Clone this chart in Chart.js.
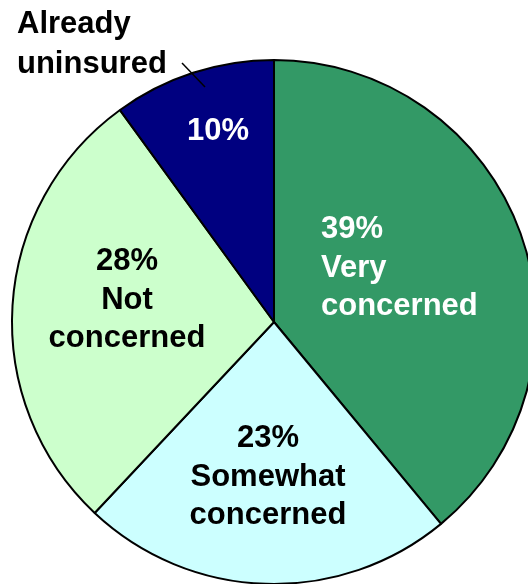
<!DOCTYPE html>
<html>
<head>
<meta charset="utf-8">
<script src="https://cdn.jsdelivr.net/npm/chart.js@4/dist/chart.umd.min.js"></script>
<style>
  html, body { margin: 0; padding: 0; background: #fff; overflow: hidden; }
  #wrap { position: absolute; left: 0; top: 0; width: 548px; height: 644px; }
</style>
</head>
<body>
<div id="wrap"><canvas id="grafico" width="548" height="644"></canvas></div>
<script>
// Datos de la encuesta (porcentajes), en sentido horario desde arriba
const categorias = ['Very concerned', 'Somewhat concerned', 'Not concerned', 'Already uninsured'];
const valores = [39, 23, 28, 10];
const colores = ['#339966', '#ccffff', '#ccffcc', '#000080'];

// Texto de cada etiqueta, una línea por elemento
const etiquetas = [
  ['39%', 'Very', 'concerned'],
  ['23%', 'Somewhat', 'concerned'],
  ['28%', 'Not', 'concerned'],
  ['10%']
];
const etiquetaExterna = ['Already', 'uninsured'];

// Posición de cada bloque de texto respecto al centro del pastel (px)
const posEtiquetas = [
  { dx: 47, dy: -84, align: 'left', color: '#fff' },
  { dx: -6, dy: 125, align: 'center', color: '#000' },
  { dx: -147, dy: -52, align: 'center', color: '#000' },
  { dx: -56, dy: -182, align: 'center', color: '#fff' }
];
const interlineado = 38.5;

const etiquetasPlugin = {
  id: 'etiquetas',
  afterDatasetsDraw(chart) {
    const c = chart.ctx;
    const arcos = chart.getDatasetMeta(0).data;
    const cx = arcos[0].x, cy = arcos[0].y;
    c.save();
    c.font = 'bold 31px "Liberation Sans", Arial, sans-serif';
    c.textBaseline = 'alphabetic';
    etiquetas.forEach((lineas, i) => {
      const p = posEtiquetas[i];
      c.fillStyle = p.color;
      c.textAlign = p.align;
      lineas.forEach((t, j) => c.fillText(t, cx + p.dx, cy + p.dy + j * interlineado));
    });

    // Etiqueta fuera del pastel con su línea guía
    c.fillStyle = '#000';
    c.textAlign = 'left';
    c.fillText(etiquetaExterna[0], cx - 257, cy - 289);
    c.fillText(etiquetaExterna[1], cx - 257, cy - 249);
    c.strokeStyle = '#000';
    c.lineWidth = 1.5;
    c.beginPath();
    c.moveTo(cx - 92, cy - 259);
    c.lineTo(cx - 69, cy - 235);
    c.stroke();
    c.restore();
  }
};

const ctx = document.getElementById('grafico').getContext('2d');
const grafico = new Chart(ctx, {
  type: 'pie',
  data: {
    labels: categorias,
    datasets: [{
      data: valores,
      backgroundColor: colores,
      borderColor: '#000',
      borderWidth: 2
    }]
  },
  options: {
    responsive: false,
    animation: false,
    layout: { padding: 11 },
    plugins: {
      legend: { display: false },
      tooltip: { enabled: false }
    }
  },
  plugins: [etiquetasPlugin]
});
</script>
</body>
</html>
